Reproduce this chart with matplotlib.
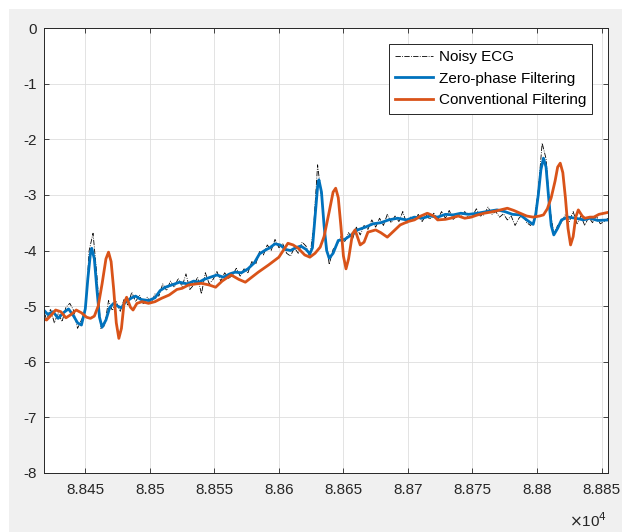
import numpy as np
import matplotlib
matplotlib.use('Agg')
import matplotlib.pyplot as plt
from matplotlib.patches import Rectangle

plt.rcParams['font.family'] = ['Liberation Sans', 'DejaVu Sans']
plt.rcParams['axes.unicode_minus'] = False

# raw ECG samples, one value every 3 samples starting at 88417
ecg_start = 88417
ecg_step = 3
noisy_ecg = [
    -5.00, -5.25, -5.05, -5.30, -5.12, -5.28, -5.02, -4.95, -5.08, -5.40,
    -5.25, -5.10, -4.00, -3.69, -4.45, -5.40, -5.35, -4.90, -5.08, -4.92,
    -5.10, -4.88, -4.98, -4.75, -4.92, -4.80, -4.97, -4.84, -4.95, -4.78,
    -4.82, -4.60, -4.72, -4.55, -4.66, -4.50, -4.65, -4.42, -4.70, -4.62,
    -4.48, -4.78, -4.40, -4.60, -4.52, -4.38, -4.55, -4.40, -4.50, -4.45,
    -4.32, -4.46, -4.33, -4.40, -4.20, -4.25, -4.02, -4.08, -3.90, -4.00,
    -3.80, -3.95, -3.88, -4.05, -4.10, -3.95, -4.05, -3.85, -3.92, -4.12,
    -3.55, -2.46, -3.05, -3.75, -4.25, -3.98, -3.90, -3.75, -3.85, -3.68,
    -3.80, -3.58, -3.72, -3.55, -3.62, -3.45, -3.58, -3.42, -3.55, -3.35,
    -3.50, -3.38, -3.48, -3.30, -3.52, -3.40, -3.46, -3.35, -3.48, -3.36,
    -3.44, -3.33, -3.45, -3.30, -3.42, -3.28, -3.44, -3.38, -3.40, -3.30,
    -3.42, -3.38, -3.25, -3.38, -3.36, -3.22, -3.35, -3.30, -3.40, -3.34,
    -3.45, -3.38, -3.55, -3.42, -3.35, -3.50, -3.55, -3.45, -2.90, -2.07,
    -2.35, -3.25, -3.70, -3.55, -3.50, -3.35, -3.48, -3.30, -3.52, -3.38,
    -3.55, -3.40, -3.50, -3.38, -3.52, -3.48, -3.42,
]

# zero-phase (filtfilt) output
zp_x = [88417, 88421, 88425, 88429, 88433, 88437, 88441, 88444, 88447, 88450,
        88452, 88454, 88455, 88457, 88459, 88461, 88463, 88466, 88469, 88472,
        88475, 88478, 88481, 88486, 88489, 88493, 88499, 88504, 88508, 88512,
        88517, 88523, 88529, 88534, 88538, 88542, 88547, 88552, 88557, 88562,
        88566, 88571, 88576, 88581, 88585, 88589, 88593, 88597, 88601, 88605,
        88609, 88613, 88617, 88621, 88624, 88626, 88628, 88630, 88631, 88633,
        88635, 88637, 88639, 88642, 88646, 88651, 88656, 88661, 88667, 88673,
        88679, 88685, 88692, 88699, 88705, 88711, 88717, 88723, 88729, 88735,
        88741, 88747, 88754, 88761, 88769, 88775, 88781, 88787, 88792, 88795,
        88797, 88799, 88801, 88803, 88805, 88807, 88809, 88811, 88813, 88816,
        88819, 88824, 88830, 88836, 88841, 88847, 88856]
zp_y = [-5.05, -5.15, -5.10, -5.22, -5.12, -5.05, -5.18, -5.30, -5.34, -5.05,
        -4.50, -4.05, -3.96, -4.15, -4.70, -5.20, -5.38, -5.25, -5.02, -4.95,
        -5.00, -5.03, -4.93, -4.85, -4.82, -4.88, -4.90, -4.85, -4.72, -4.66,
        -4.62, -4.57, -4.60, -4.55, -4.57, -4.52, -4.48, -4.44, -4.48, -4.42,
        -4.39, -4.40, -4.33, -4.22, -4.06, -4.00, -3.95, -3.88, -3.90, -3.98,
        -4.00, -3.95, -3.92, -3.98, -4.06, -3.95, -3.40, -2.85, -2.73, -2.95,
        -3.55, -4.00, -4.14, -4.05, -3.82, -3.80, -3.72, -3.63, -3.58, -3.52,
        -3.50, -3.45, -3.42, -3.45, -3.40, -3.42, -3.38, -3.40, -3.35, -3.36,
        -3.33, -3.35, -3.33, -3.30, -3.27, -3.30, -3.35, -3.36, -3.45, -3.50,
        -3.53, -3.35, -3.00, -2.55, -2.34, -2.50, -3.05, -3.55, -3.72, -3.60,
        -3.45, -3.40, -3.42, -3.45, -3.42, -3.46, -3.45]

# conventional (causal) filter output
cf_x = [88417, 88420, 88424, 88427, 88431, 88435, 88439, 88443, 88447, 88451,
        88454, 88457, 88460, 88463, 88466, 88468, 88470, 88472, 88474, 88476,
        88478, 88480, 88482, 88485, 88487, 88490, 88494, 88499, 88504, 88509,
        88515, 88521, 88525, 88530, 88536, 88540, 88546, 88551, 88556, 88563,
        88569, 88574, 88579, 88584, 88592, 88600, 88607, 88611, 88615, 88620,
        88624, 88628, 88632, 88635, 88639, 88642, 88644, 88646, 88648, 88650,
        88652, 88654, 88657, 88659, 88663, 88666, 88669, 88675, 88679, 88684,
        88689, 88694, 88700, 88705, 88710, 88715, 88720, 88723, 88729, 88733,
        88739, 88744, 88749, 88754, 88759, 88764, 88770, 88777, 88782, 88787,
        88792, 88797, 88802, 88805, 88808, 88811, 88814, 88816, 88818, 88820,
        88822, 88824, 88826, 88828, 88830, 88832, 88835, 88837, 88841, 88844,
        88848, 88856]
cf_y = [-5.22, -5.25, -5.15, -5.07, -5.10, -5.21, -5.15, -5.07, -5.12, -5.20,
        -5.22, -5.18, -5.00, -4.60, -4.15, -4.03, -4.20, -4.70, -5.30, -5.58,
        -5.40, -4.95, -4.84, -5.02, -5.07, -4.95, -4.92, -4.95, -4.92, -4.86,
        -4.80, -4.70, -4.68, -4.62, -4.60, -4.59, -4.62, -4.66, -4.55, -4.44,
        -4.52, -4.57, -4.48, -4.39, -4.26, -4.12, -3.87, -3.90, -3.96, -4.08,
        -4.12, -4.05, -3.94, -3.75, -3.30, -2.95, -2.88, -3.05, -3.55, -4.10,
        -4.33, -4.15, -3.70, -3.63, -3.90, -3.85, -3.67, -3.63, -3.68, -3.76,
        -3.65, -3.54, -3.48, -3.45, -3.38, -3.33, -3.38, -3.45, -3.44, -3.42,
        -3.38, -3.42, -3.40, -3.36, -3.33, -3.31, -3.28, -3.24, -3.28, -3.33,
        -3.38, -3.40, -3.38, -3.36, -3.25, -3.05, -2.75, -2.50, -2.43, -2.60,
        -3.05, -3.60, -3.90, -3.75, -3.40, -3.27, -3.38, -3.42, -3.40, -3.40,
        -3.35, -3.31]

xticks = [88450, 88500, 88550, 88600, 88650, 88700, 88750, 88800, 88850]
yticks = [0, -1, -2, -3, -4, -5, -6, -7, -8]

ecg_x = ecg_start + ecg_step * np.arange(len(noisy_ecg))

fig = plt.figure(figsize=(6.22, 5.32), dpi=100, facecolor='white')
fig.patches.append(Rectangle((9 / 622, 0), 1, (532 - 9) / 532,
                             transform=fig.transFigure, facecolor='#f0f0f0',
                             edgecolor='none', zorder=-10))
ax = fig.add_axes([44 / 622, 59 / 532, 564 / 622, 445 / 532])

ax.plot(ecg_x, noisy_ecg, color='black', linestyle='-.', linewidth=0.6,
        label='Noisy ECG')
ax.plot(zp_x, zp_y, color='#0072BD', linewidth=2.0, label='Zero-phase Filtering')
ax.plot(cf_x, cf_y, color='#D95319', linewidth=2.0, label='Conventional Filtering')

ax.set_xlim(88418, 88855)
ax.set_ylim(-8, 0)
ax.set_xticks(xticks)
ax.set_xticklabels(['%g' % (v / 1e4) for v in xticks])
ax.set_yticks(yticks)
ax.set_yticklabels(['%d' % v for v in yticks])

ax.grid(True, color='#dedede', linewidth=0.6)
ax.set_axisbelow(True)
ax.tick_params(direction='in', length=3.5, width=0.6, colors='#262626',
               labelsize=11, top=True, right=True)
ax.tick_params(axis='x', pad=7)
ax.tick_params(axis='y', pad=5)
for s in ax.spines.values():
    s.set_color('#262626')
    s.set_linewidth(0.7)

ax.text(0.998, -0.106, r'$\times$10$^{4}$', transform=ax.transAxes,
        ha='right', va='center', fontsize=11, color='#262626')

leg = ax.legend(loc='upper right', bbox_to_anchor=(0.972, 0.964),
                borderaxespad=0, fontsize=11, fancybox=False, framealpha=1,
                handlelength=2.5, handletextpad=0.35, labelspacing=0.5,
                borderpad=0.4)
leg.get_frame().set_edgecolor('#262626')
leg.get_frame().set_linewidth(0.7)

fig.savefig('out.png', dpi=100, facecolor=fig.get_facecolor())
